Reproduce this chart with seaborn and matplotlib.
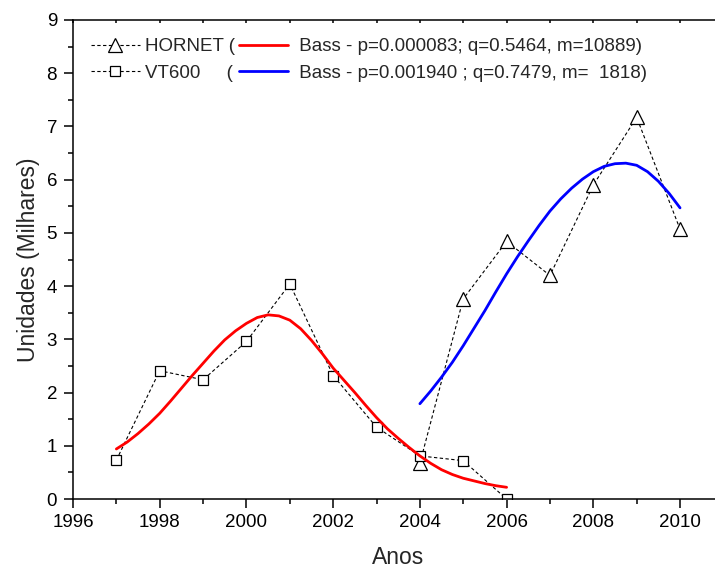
import numpy as np
import pandas as pd
import matplotlib
matplotlib.use("Agg")
import matplotlib.pyplot as plt
import seaborn as sns
from matplotlib.ticker import MultipleLocator

# ---- data ----
years_hornet = [2004, 2005, 2006, 2007, 2008, 2009, 2010]
hornet = [0.67, 3.76, 4.84, 4.20, 5.90, 7.17, 5.07]

years_vt600 = [1997, 1998, 1999, 2000, 2001, 2002, 2003, 2004, 2005, 2006]
vt600 = [0.73, 2.41, 2.24, 2.96, 4.04, 2.32, 1.35, 0.81, 0.72, 0.0]

bass_red_x = [1997.0, 1997.25, 1997.5, 1997.75, 1998.0, 1998.25, 1998.5, 1998.75,
              1999.0, 1999.25, 1999.5, 1999.75, 2000.0, 2000.25, 2000.5, 2000.75,
              2001.0, 2001.25, 2001.5, 2001.75, 2002.0, 2002.25, 2002.5, 2002.75,
              2003.0, 2003.25, 2003.5, 2003.75, 2004.0, 2004.25, 2004.5, 2004.75,
              2005.0, 2005.25, 2005.5, 2005.75, 2006.0]
bass_red_y = [0.94, 1.07, 1.23, 1.41, 1.61, 1.84, 2.08, 2.32,
              2.55, 2.78, 2.99, 3.16, 3.30, 3.41, 3.46, 3.44,
              3.36, 3.20, 2.98, 2.73, 2.46, 2.23, 2.00, 1.76,
              1.53, 1.32, 1.14, 0.97, 0.81, 0.67, 0.55, 0.46,
              0.39, 0.34, 0.29, 0.25, 0.22]

bass_blue_x = [2004.0, 2004.25, 2004.5, 2004.75, 2005.0, 2005.25, 2005.5, 2005.75,
               2006.0, 2006.25, 2006.5, 2006.75, 2007.0, 2007.25, 2007.5, 2007.75,
               2008.0, 2008.25, 2008.5, 2008.75, 2009.0, 2009.25, 2009.5, 2009.75,
               2010.0]
bass_blue_y = [1.79, 2.03, 2.29, 2.57, 2.88, 3.21, 3.54, 3.89,
               4.23, 4.55, 4.85, 5.14, 5.41, 5.64, 5.84, 6.01,
               6.15, 6.25, 6.30, 6.31, 6.27, 6.15, 5.97, 5.74,
               5.47]

label_hornet = "HORNET ("
label_vt600 = "VT600     ("
label_red = " Bass - p=0.000083; q=0.5464, m=10889)"
label_blue = " Bass - p=0.001940 ; q=0.7479, m=  1818)"
xlabel = "Anos"
ylabel = "Unidades (Milhares)"

# ---- style ----
sns.set_style("ticks")
plt.rcParams["font.family"] = ["Liberation Sans", "DejaVu Sans"]

fig = plt.figure(figsize=(7.15, 5.70), dpi=100)
W, H = 715, 570
left_px, right_px, top_px, bottom_px = 73, 73 + 15 * 43.36, 20, 499
ax = fig.add_axes([left_px / W, 1 - bottom_px / H,
                   (right_px - left_px) / W, (bottom_px - top_px) / H])

df_h = pd.DataFrame({"x": years_hornet, "y": hornet})
df_v = pd.DataFrame({"x": years_vt600, "y": vt600})
df_r = pd.DataFrame({"x": bass_red_x, "y": bass_red_y})
df_b = pd.DataFrame({"x": bass_blue_x, "y": bass_blue_y})

dash = (0, (3.0, 2.2))
sns.lineplot(data=df_h, x="x", y="y", ax=ax, estimator=None, sort=False,
             color="black", linestyle=dash, linewidth=0.8, marker="^",
             markersize=9.8, markerfacecolor="white", markeredgecolor="black",
             markeredgewidth=0.9, label=label_hornet)
h_line = ax.lines[-1]
sns.lineplot(data=df_v, x="x", y="y", ax=ax, estimator=None, sort=False,
             color="black", linestyle=dash, linewidth=0.8, marker="s",
             markersize=7.7, markerfacecolor="white", markeredgecolor="black",
             markeredgewidth=0.9, label=label_vt600)
v_line = ax.lines[-1]
sns.lineplot(data=df_r, x="x", y="y", ax=ax, estimator=None, sort=False,
             color="#ff0000", linewidth=2.0, label=label_red)
r_line = ax.lines[-1]
sns.lineplot(data=df_b, x="x", y="y", ax=ax, estimator=None, sort=False,
             color="#0000ff", linewidth=2.0, label=label_blue)
b_line = ax.lines[-1]

ax.set_xlim(1996, 2011)
ax.set_ylim(0, 9)
ax.xaxis.set_major_locator(MultipleLocator(2))
ax.xaxis.set_minor_locator(MultipleLocator(1))
ax.yaxis.set_major_locator(MultipleLocator(1))
ax.yaxis.set_minor_locator(MultipleLocator(0.5))

for s in ["left", "bottom", "top"]:
    ax.spines[s].set_linewidth(1.1)
    ax.spines[s].set_color("black")
ax.spines["right"].set_visible(False)

ax.tick_params(axis="both", which="major", direction="out", length=6.5,
               width=1.1, labelsize=13.5, color="black", labelcolor="black")
ax.tick_params(axis="both", which="minor", direction="out", length=3.5,
               width=1.1, color="black")
ax.tick_params(axis="x", which="major", pad=4)
ax.tick_params(axis="y", which="major", pad=5)
ax.tick_params(axis="x", which="both", top=True, labeltop=False)
# top ticks are tiny and point inward
for t in ax.xaxis.get_major_ticks() + ax.xaxis.get_minor_ticks():
    t.tick2line.set_marker(3)  # TICKDOWN
    t.tick2line.set_markersize(2)

ax.set_xlabel(xlabel, fontsize=16.5, labelpad=11)
ax.set_ylabel(ylabel, fontsize=16.5, labelpad=5)

leg = ax.legend(handles=[h_line, v_line, r_line, b_line],
                labels=[label_hornet, label_vt600, label_red, label_blue],
                ncol=2, loc="upper left", frameon=False, fontsize=13.5,
                handlelength=2.6, handletextpad=0.3, columnspacing=0.2,
                labelspacing=0.5, borderpad=0, borderaxespad=0,
                bbox_to_anchor=(91 / W, 1 - 38 / H),
                bbox_transform=fig.transFigure)

fig.savefig("out.png", dpi=100)
